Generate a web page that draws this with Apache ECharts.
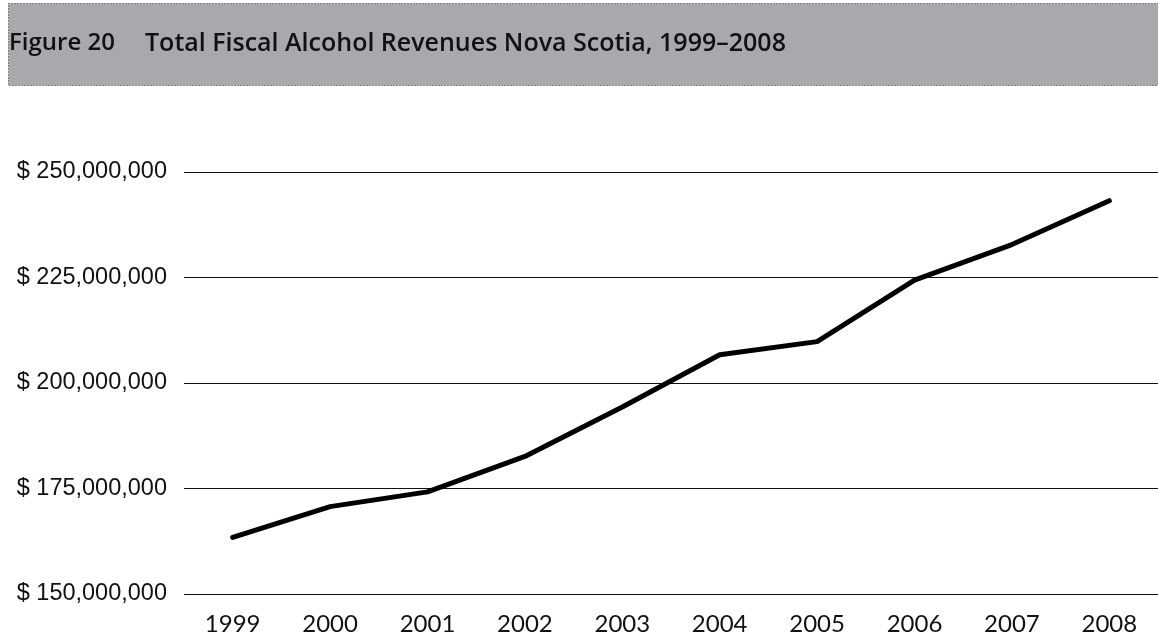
<!DOCTYPE html>
<html>
<head>
<meta charset="utf-8">
<script src="https://cdn.jsdelivr.net/npm/echarts@6/dist/echarts.min.js"></script>
<style>
  html, body { margin: 0; padding: 0; background: #ffffff; }
  #chart { width: 1158px; height: 636px; }
</style>
</head>
<body>
<div id="chart"></div>
<script>
// Total fiscal alcohol revenues, Nova Scotia (dollars)
const years = ['1999', '2000', '2001', '2002', '2003', '2004', '2005', '2006', '2007', '2008'];
const revenues = [163400000, 170700000, 174200000, 182600000, 194300000, 206700000, 209800000, 224400000, 232800000, 243200000];
const yTicks = [150000000, 175000000, 200000000, 225000000, 250000000];

const figureLabel = 'Figure 20';
const figureTitle = 'Total Fiscal Alcohol Revenues Nova Scotia, 1999\u20132008';

function formatDollars(v) {
  return '$ ' + v.toLocaleString('en-US');
}

const chart = echarts.init(document.getElementById('chart'), null, { renderer: 'canvas' });

chart.setOption({
  backgroundColor: '#ffffff',
  animation: false,
  graphic: [
    {
      type: 'rect',
      z: 0,
      shape: { x: 8.5, y: 3.5, width: 1160, height: 82 },
      style: { fill: '#a8a9ad', stroke: '#2a2a2a', lineWidth: 1, lineDash: [1, 2] }
    },
    {
      type: 'text',
      z: 1,
      left: 9,
      top: 31,
      style: { text: figureLabel, fill: '#111111', font: '600 24px "Open Sans"' }
    },
    {
      type: 'text',
      z: 1,
      left: 145,
      top: 31,
      style: { text: figureTitle, fill: '#111111', font: '600 25px "Open Sans"' }
    }
  ],
  grid: {
    left: 184,
    top: 172,
    width: 976,
    height: 424,
    containLabel: false
  },
  xAxis: {
    type: 'category',
    data: years,
    boundaryGap: true,
    axisLine: { show: false },
    axisTick: { show: false },
    axisLabel: {
      color: '#111111',
      fontFamily: 'Lato',
      fontSize: 24,
      margin: 18
    },
    splitLine: { show: false }
  },
  yAxis: {
    type: 'value',
    min: yTicks[0],
    max: yTicks[yTicks.length - 1],
    interval: 25000000,
    axisLine: { show: false },
    axisTick: { show: false },
    axisLabel: {
      color: '#111111',
      fontFamily: 'Liberation Sans',
      fontSize: 23.5,
      margin: 17,
      formatter: formatDollars
    },
    splitLine: { show: true, lineStyle: { color: '#111111', width: 1.2 } }
  },
  series: [
    {
      type: 'line',
      data: revenues,
      symbol: 'none',
      lineStyle: { color: '#000000', width: 5, cap: 'round', join: 'round' }
    }
  ]
});
</script>
</body>
</html>
